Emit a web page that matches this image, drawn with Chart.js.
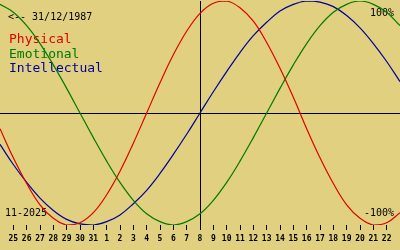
<!DOCTYPE html>
<html>
<head>
<meta charset="utf-8">
<script src="https://cdn.jsdelivr.net/npm/chart.js@4"></script>
<style>
  body { margin: 0; background: #e0d080; }
  #wrap { width: 400px; height: 250px; }
</style>
</head>
<body>
<div id="wrap"><canvas id="bioChart" width="400" height="250"></canvas></div>
<script>
// day labels, one per tick (index 0 .. 28), 25 Oct .. 22 Nov
const dayLabels = [25, 26, 27, 28, 29, 30, 31, 1, 2, 3, 4, 5, 6, 7, 8, 9, 10, 11, 12, 13, 14, 15, 16, 17, 18, 19, 20, 21, 22];
const todayIndex = 14;

// values per day in %, from index -1 to 29 (one extra day at each edge)
const physical = [-14, -40, -63, -82, -94, -100, -98, -89, -73, -52, -27, 0, 27, 52, 73, 89, 98, 100, 94, 82, 63, 40, 14, -14, -40, -63, -82, -94, -100, -98, -89];
const emotional = [97, 90, 78, 62, 43, 22, 0, -22, -43, -62, -78, -90, -97, -100, -97, -90, -78, -62, -43, -22, 0, 22, 43, 62, 78, 90, 97, 100, 97, 90, 78];
const intellectual = [-28, -46, -62, -76, -87, -95, -99, -100, -97, -91, -81, -69, -54, -37, -19, 0, 19, 37, 54, 69, 81, 91, 97, 100, 99, 95, 87, 76, 62, 46, 28];

const birthText = '<-- 31/12/1987';
const monthText = '11-2025';
const seriesNames = ['Physical', 'Emotional', 'Intellectual'];
const seriesColors = ['#e00000', '#007a00', '#00009c'];

const toPoints = (values) => values.map((v, i) => ({ x: i - 1, y: v }));

const textPlugin = {
    id: 'bioText',
    beforeDatasetsDraw(chart) {
        const ctx = chart.ctx;
        ctx.save();
        ctx.textBaseline = 'alphabetic';
        ctx.fillStyle = '#000000';
        ctx.font = '10px "DejaVu Sans Mono"';
        ctx.textAlign = 'left';
        ctx.fillText(birthText, 8, 20);
        ctx.fillText(monthText, 5, 216);
        ctx.textAlign = 'right';
        ctx.fillText('100%', 394, 16);
        ctx.fillText('-100%', 394, 216);

        ctx.textAlign = 'left';
        ctx.font = '13px "DejaVu Sans Mono"';
        seriesNames.forEach((name, i) => {
            ctx.fillStyle = seriesColors[i];
            ctx.fillText(name, 9, 43 + i * 14.7);
        });
        ctx.restore();
    }
};

const ctx = document.getElementById('bioChart');
new Chart(ctx, {
    type: 'line',
    data: {
        datasets: [physical, emotional, intellectual].map((values, i) => ({
            label: seriesNames[i],
            data: toPoints(values),
            borderColor: seriesColors[i],
            borderWidth: 1.2,
            pointRadius: 0,
            tension: 0.4,
            fill: false
        }))
    },
    options: {
        responsive: false,
        animation: false,
        layout: { padding: { top: 1, left: 0, right: 0, bottom: 0 } },
        plugins: {
            legend: { display: false },
            tooltip: { enabled: false }
        },
        scales: {
            x: {
                type: 'linear',
                min: -1,
                max: 29,
                border: { display: false },
                grid: {
                    drawOnChartArea: true,
                    tickLength: 5,
                    color: (c) => c.tick && c.tick.value === todayIndex ? '#000000' : 'rgba(0,0,0,0)',
                    tickColor: (c) => c.tick && c.tick.value >= 0 && c.tick.value <= 28 ? '#000000' : 'rgba(0,0,0,0)',
                    lineWidth: 1
                },
                ticks: {
                    stepSize: 1,
                    autoSkip: false,
                    maxRotation: 0,
                    padding: 4,
                    color: '#000000',
                    font: { family: '"DejaVu Sans Mono"', size: 8, weight: 'bold' },
                    callback: (value) => (value >= 0 && value <= 28) ? String(dayLabels[value]) : ''
                },
                afterFit: (scale) => { scale.paddingLeft = 0; scale.paddingRight = 0; scale.height = 25; }
            },
            y: {
                min: -100,
                max: 100,
                border: { display: false },
                ticks: { display: false, padding: 0 },
                grid: {
                    drawTicks: false,
                    color: (c) => c.tick && c.tick.value === 0 ? '#000000' : 'rgba(0,0,0,0)'
                },
                afterFit: (scale) => { scale.width = 0; }
            }
        }
    },
    plugins: [textPlugin]
});
</script>
</body>
</html>
